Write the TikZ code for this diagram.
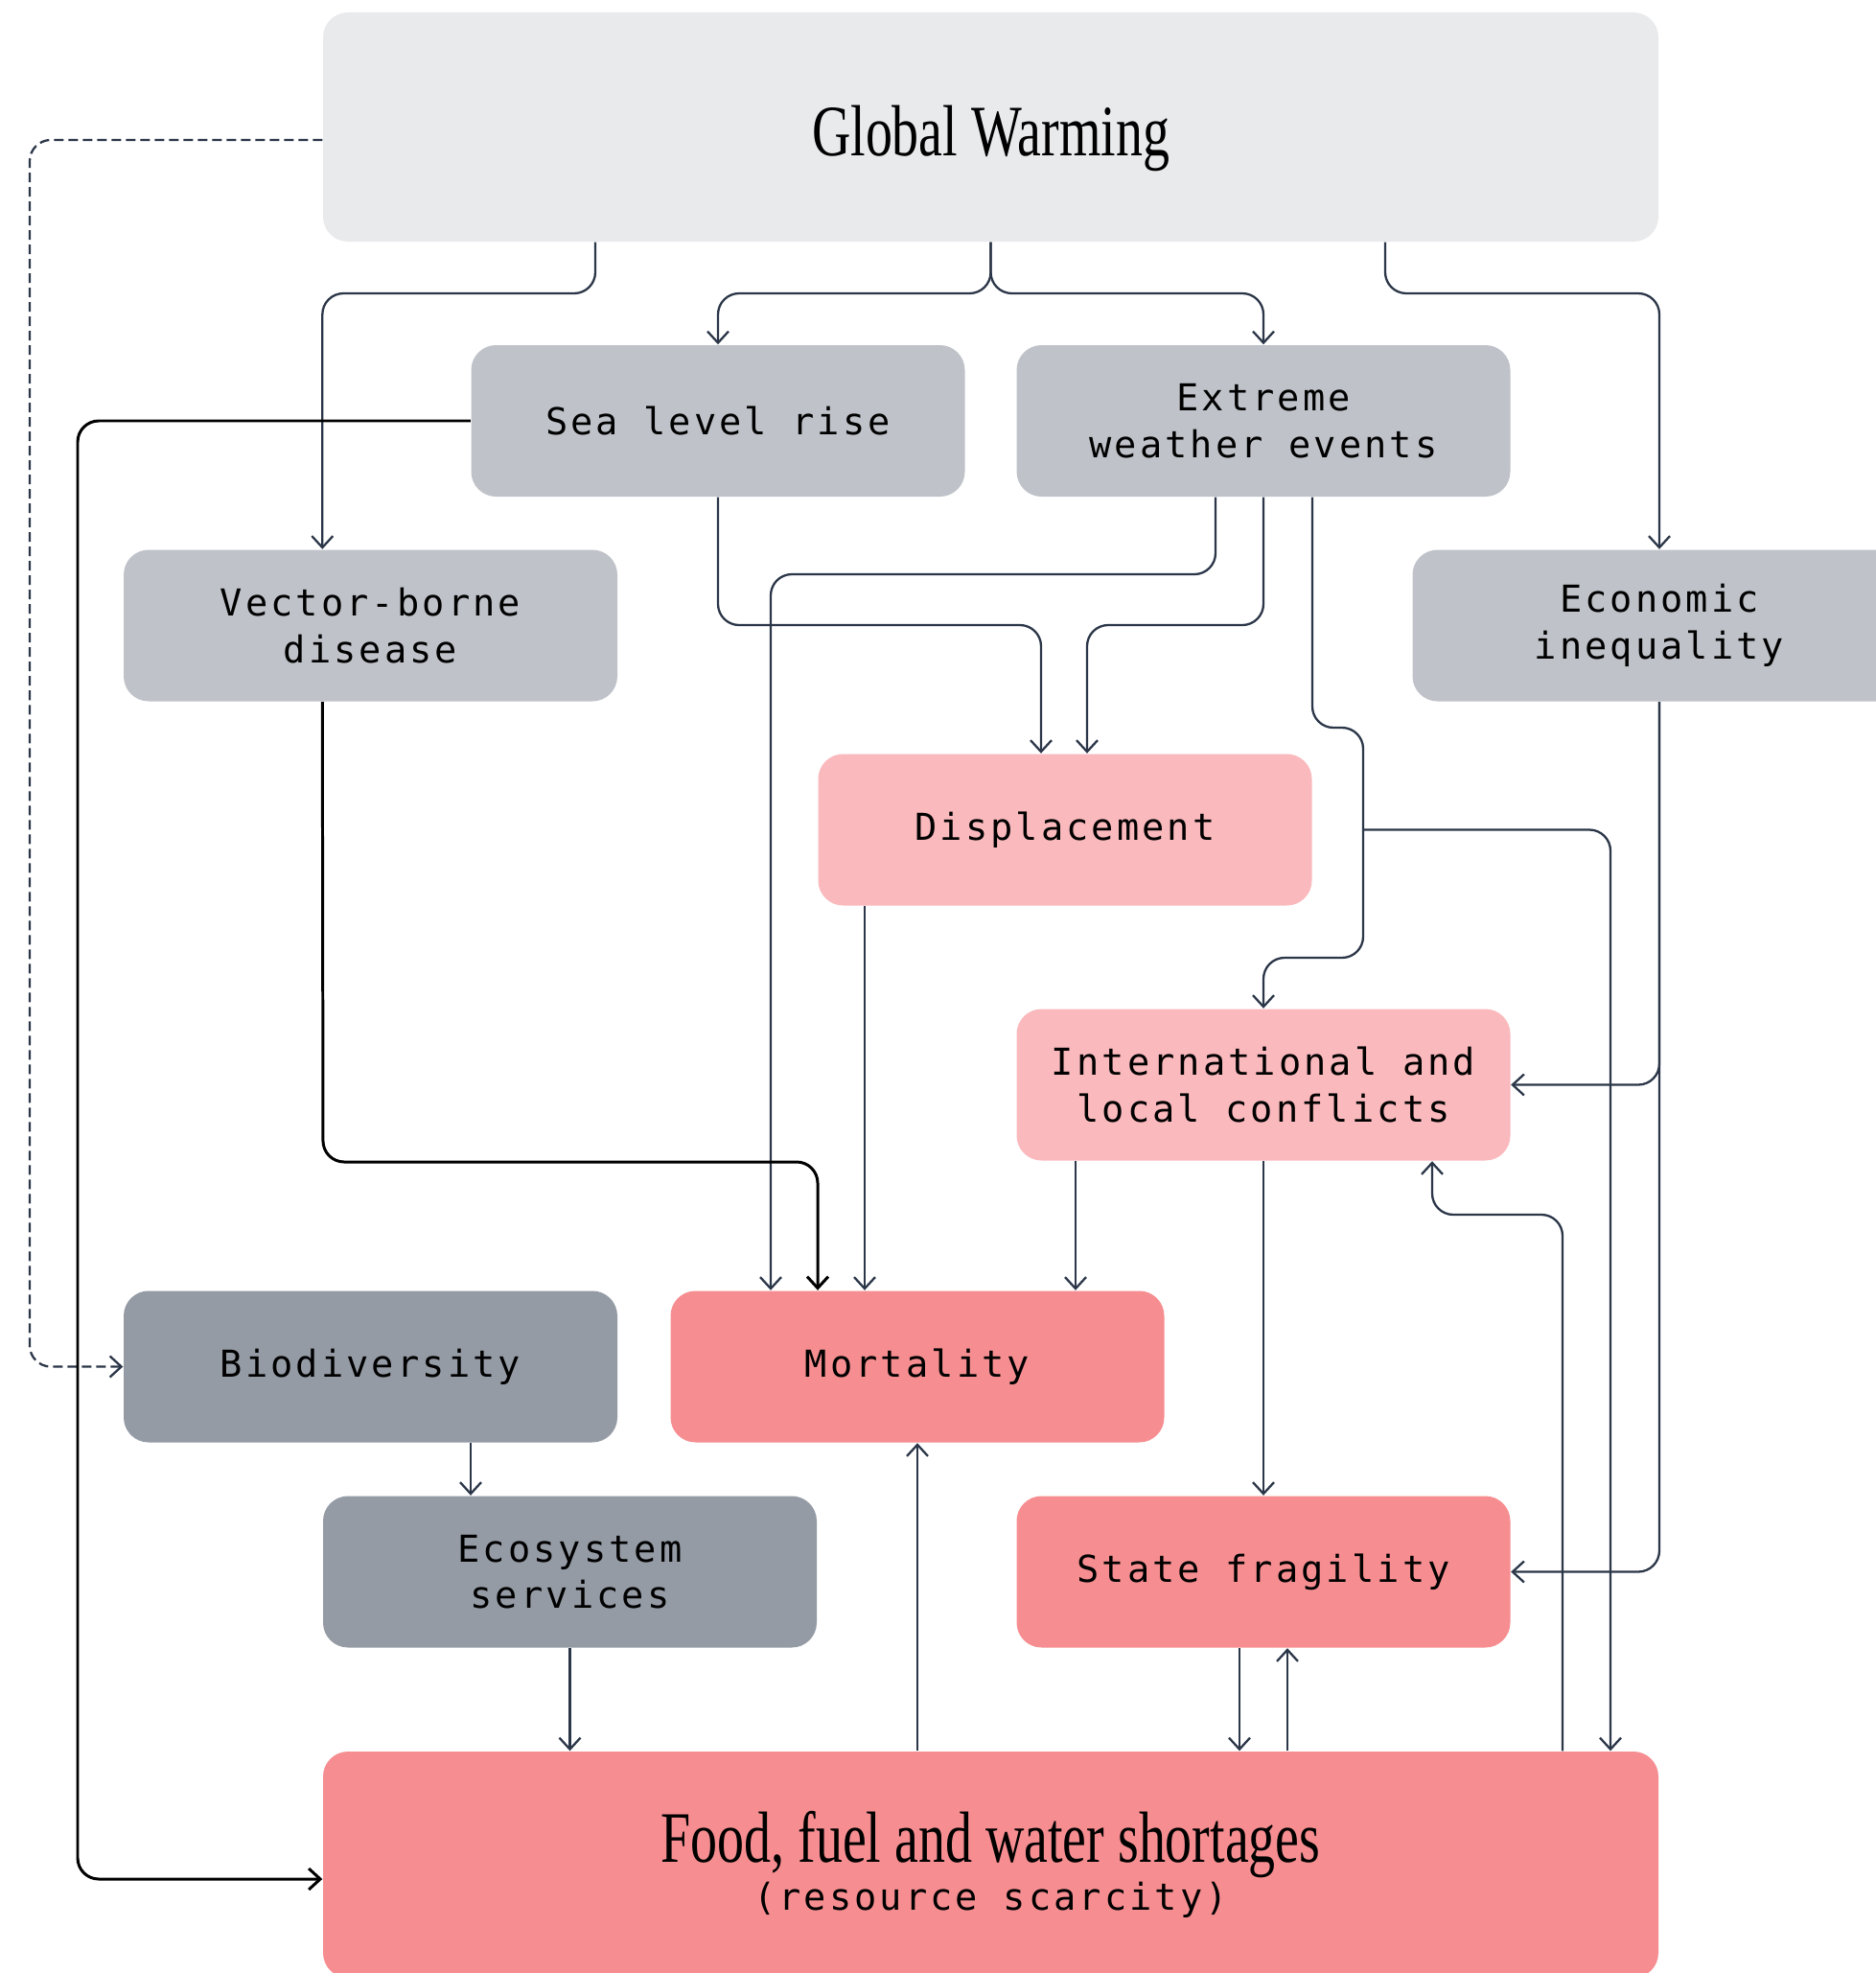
\documentclass[tikz,border=0pt]{standalone}
\usepackage{fontspec}
\setmonofont{DejaVu Sans Mono}[LetterSpace=8]
\newfontfamily\titlefont{Liberation Serif}[FakeStretch=0.74]
\usetikzlibrary{arrows.meta}

\definecolor{topgrey}{HTML}{E9EAEC}
\definecolor{midgrey}{HTML}{BFC3C9}
\definecolor{darkgrey}{HTML}{959BA5}
\definecolor{lightpink}{HTML}{FAB9BD}
\definecolor{salmon}{HTML}{F68E91}
\definecolor{navy}{HTML}{2B3648}

\newcommand{\boxfont}{\ttfamily\fontsize{11}{13.8}\selectfont}
\newcommand{\headfont}{\titlefont\fontsize{21.5}{14.2}\selectfont}

\begin{document}
\begin{tikzpicture}[
    box/.style={rounded corners=0.26cm, minimum width=5.15cm, minimum height=1.58cm,
      align=center, font=\boxfont, inner sep=0pt},
    wire/.style={navy, line width=0.65pt, rounded corners=0.22cm,
      -{Straight Barb[length=0.12cm,width=0.22cm]}},
    thickwire/.style={wire, black, line width=0.85pt}
  ]
    \path[use as bounding box, clip] (0,0) rectangle (19.57,-20.58);
    \fill[white] (0,0) rectangle (19.57,-20.58);

    % boxes
    \node[box, fill=topgrey, minimum width=13.93cm, minimum height=2.39cm,
      font=\headfont, text height=0.6cm, text depth=0pt] (gw) at (10.335,-1.325) {Global Warming};
    \node[box, fill=midgrey] (sea) at (7.49,-4.39) {Sea level rise};
    \node[box, fill=midgrey] (ext) at (13.18,-4.39) {Extreme\\weather events};
    \node[box, fill=midgrey] (vec) at (3.865,-6.525) {Vector-borne\\disease};
    \node[box, fill=midgrey] (econ) at (17.31,-6.525) {Economic\\inequality};
    \node[box, fill=lightpink] (disp) at (11.11,-8.655) {Displacement};
    \node[box, fill=lightpink] (intl) at (13.18,-11.315) {International and\\local conflicts};
    \node[box, fill=darkgrey] (bio) at (3.865,-14.255) {Biodiversity};
    \node[box, fill=salmon] (mort) at (9.57,-14.255) {Mortality};
    \node[box, fill=darkgrey] (eco) at (5.945,-16.395) {Ecosystem\\services};
    \node[box, fill=salmon] (state) at (13.18,-16.395) {State fragility};
    \node[box, fill=salmon, minimum width=13.93cm, minimum height=2.36cm,
      font=\ttfamily\fontsize{11}{14.2}\selectfont] (food) at (10.335,-19.45)
      {{\headfont Food, fuel and water shortages}\\(resource scarcity)};

    % from global warming
    \draw[wire] (gw.south -| 6.21,0) -- (6.21,-3.06) -| (vec.north -| gw.west);
    \draw[wire] (gw.south) -- (10.335,-3.06) -| (sea.north);
    \draw[wire] (gw.south) -- (10.335,-3.06) -| (ext.north);
    \draw[wire] (gw.south -| 14.45,0) -- (14.45,-3.06) -| (econ.north);
    \draw[wire, dashed, dash pattern=on 0.1cm off 0.05cm] (gw.west |- 0,-1.46) -- (0.31,-1.46) |- (bio.west);

    % sea level rise
    \draw[thickwire] (sea.west) -- (0.81,-4.39) |- (food.west |- 0,-19.6);
    \draw[wire] (sea.south) -- (7.49,-6.52) -| (disp.north -| 10.86,0);

    % extreme weather events
    \draw[wire] (ext.south -| 12.68,0) -- (12.68,-5.99) -| (mort.north -| 8.04,0);
    \draw[wire] (ext.south) -- (13.18,-6.52) -| (disp.north -| 11.34,0);
    \draw[wire] (ext.south -| 13.69,0) |- (14.22,-7.59) -- (14.22,-9.99) -| (intl.north);
    \coordinate (split) at (disp.east -| 14.22,0);
    \draw[wire] (split) -| (food.north -| 16.80,0);

    % vector-borne disease, displacement
    \draw[thickwire] (vec.south -| gw.west) -- (3.37,-12.12) -| (mort.north -| 8.53,0);
    \draw[wire] (disp.south -| 9.02,0) -- (mort.north -| 9.02,0);

    % economic inequality
    \draw[wire] (econ.south) |- (intl.east);
    \draw[wire] (econ.south) |- (state.east);

    % conflicts
    \draw[wire] (intl.south -| 11.22,0) -- (mort.north -| 11.22,0);
    \draw[wire] (intl.south) -- (state.north);
    \draw[wire] (food.north -| 16.30,0) -- (16.30,-12.67) -| (intl.south -| 14.94,0);

    % lower part
    \draw[wire] (bio.south -| 4.91,0) -- (eco.north -| 4.91,0);
    \draw[wire] (eco.south) -- (food.north -| eco.south);
    \draw[wire] (food.north -| mort.south) -- (mort.south);
    \draw[wire] (state.south -| 12.93,0) -- (food.north -| 12.93,0);
    \draw[wire] (food.north -| 13.43,0) -- (state.south -| 13.43,0);
  \end{tikzpicture}
\end{document}
